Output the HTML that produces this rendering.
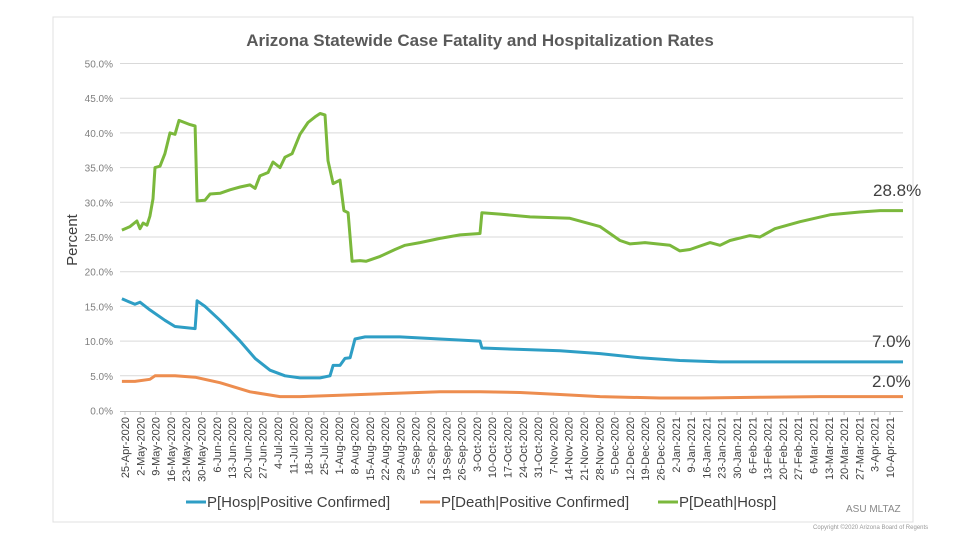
<!DOCTYPE html>
<html><head><meta charset="utf-8"><style>
body{margin:0;background:#fff;}
svg{display:block;font-family:"Liberation Sans",sans-serif;}
</style></head><body>
<svg id="chart" width="960" height="540">
<rect x="53" y="17" width="860" height="505" fill="#fff" stroke="#e0e0e0"/>
<text x="480" y="46" text-anchor="middle" font-size="17" font-weight="bold" fill="#595959">Arizona Statewide Case Fatality and Hospitalization Rates</text>
<text transform="translate(77,240) rotate(-90)" text-anchor="middle" font-size="15" fill="#404040">Percent</text>
<g id="grid"></g><g id="xaxis"></g><g id="series"></g>
<text x="873" y="196" font-size="17" fill="#404040">28.8%</text>
<text x="872" y="347" font-size="17" fill="#404040">7.0%</text>
<text x="872" y="387" font-size="17" fill="#404040">2.0%</text>
<g font-size="15" fill="#404040">
<line x1="186" y1="502" x2="206" y2="502" stroke="#2e9ec5" stroke-width="3"/>
<text x="207" y="507">P[Hosp|Positive Confirmed]</text>
<line x1="420" y1="502" x2="440" y2="502" stroke="#ed8d4f" stroke-width="3"/>
<text x="441" y="507">P[Death|Positive Confirmed]</text>
<line x1="658" y1="502" x2="678" y2="502" stroke="#7bb83c" stroke-width="3"/>
<text x="679" y="507">P[Death|Hosp]</text>
</g>
<text x="846" y="512" font-size="10" fill="#888">ASU MLTAZ</text>
<text x="813" y="529" font-size="6" fill="#999">Copyright ©2020 Arizona Board of Regents</text>
</svg>
<script>
const yTicks=[0,5,10,15,20,25,30,35,40,45,50];
const dateLabels=["25-Apr-2020","2-May-2020","9-May-2020","16-May-2020","23-May-2020","30-May-2020","6-Jun-2020","13-Jun-2020","20-Jun-2020","27-Jun-2020","4-Jul-2020","11-Jul-2020","18-Jul-2020","25-Jul-2020","1-Aug-2020","8-Aug-2020","15-Aug-2020","22-Aug-2020","29-Aug-2020","5-Sep-2020","12-Sep-2020","19-Sep-2020","26-Sep-2020","3-Oct-2020","10-Oct-2020","17-Oct-2020","24-Oct-2020","31-Oct-2020","7-Nov-2020","14-Nov-2020","21-Nov-2020","28-Nov-2020","5-Dec-2020","12-Dec-2020","19-Dec-2020","26-Dec-2020","2-Jan-2021","9-Jan-2021","16-Jan-2021","23-Jan-2021","30-Jan-2021","6-Feb-2021","13-Feb-2021","20-Feb-2021","27-Feb-2021","6-Mar-2021","13-Mar-2021","20-Mar-2021","27-Mar-2021","3-Apr-2021","10-Apr-2021"];
// x in weeks since 25-Apr-2020, values in percent
const greenWeeks=[-0.2,0.33,0.78,0.98,1.18,1.44,1.63,1.83,1.96,2.29,2.61,2.94,3.27,3.53,4.25,4.58,4.71,5.23,5.56,6.21,6.86,7.52,8.17,8.5,8.82,9.35,9.67,10.13,10.46,10.92,11.44,11.96,12.42,12.75,13.07,13.27,13.6,14.05,14.31,14.58,14.84,15.36,15.75,16.67,17.65,18.3,19.28,20.59,21.9,23.2,23.33,24.51,26.47,29.08,31.05,32.35,33.01,33.99,35.62,36.27,36.93,38.24,38.89,39.54,40.85,41.5,42.48,44.12,46.08,48.04,49.35,50.85];
const greenVals=[26,26.5,27.3,26.2,27,26.7,28,30.5,35,35.2,37,40,39.8,41.8,41.2,41,30.2,30.3,31.2,31.3,31.8,32.2,32.5,32,33.8,34.3,35.8,35,36.5,37,39.8,41.5,42.3,42.8,42.6,36,32.7,33.2,28.8,28.5,21.5,21.6,21.5,22.2,23.2,23.8,24.2,24.8,25.3,25.5,28.5,28.3,27.9,27.7,26.5,24.5,24,24.2,23.8,23,23.2,24.2,23.8,24.5,25.2,25,26.2,27.2,28.2,28.6,28.8,28.8];
const blueWeeks=[-0.2,0.65,0.98,1.63,2.61,3.27,4.58,4.71,5.23,6.21,7.52,8.5,9.48,10.46,11.44,12.75,13.4,13.6,14.05,14.38,14.71,15.03,15.69,17.97,20.59,23.2,23.33,25.82,28.43,31.05,33.66,36.27,38.89,44.12,50.85];
const blueVals=[16.1,15.3,15.6,14.5,13,12.1,11.8,15.8,15,13,10,7.5,5.8,5,4.7,4.7,5,6.5,6.5,7.5,7.6,10.3,10.6,10.6,10.3,10,9,8.8,8.6,8.2,7.6,7.2,7.0,7.0,7.0];
const orangeWeeks=[-0.2,0.65,1.63,1.96,3.27,4.58,6.21,8.17,10.13,11.44,14.05,17.97,20.59,23.2,25.82,28.43,31.05,34.97,37.58,41.5,45.42,50.85];
const orangeVals=[4.2,4.2,4.5,5,5,4.8,4,2.7,2.0,2.0,2.2,2.5,2.7,2.7,2.6,2.3,2.0,1.8,1.8,1.9,2.0,2.0];

const NS="http://www.w3.org/2000/svg";
const xS=w=>125+w*15.3;
const yS=v=>410.5-v*6.94;
function mk(tag,attrs,parent){const e=document.createElementNS(NS,tag);for(const k in attrs)e.setAttribute(k,attrs[k]);parent.appendChild(e);return e;}
const grid=document.getElementById('grid');
yTicks.forEach(t=>{
  if(t>0){const l=mk('line',{x1:120,x2:903,y1:yS(t),y2:yS(t),stroke:'#d9d9d9','stroke-width':1},grid);
  
  }
  const tx=mk('text',{x:113,y:yS(t)+4,'text-anchor':'end','font-size':10,fill:'#7f7f7f'},grid);
  tx.textContent=t.toFixed(1)+'%';
  
  
});
const xa=document.getElementById('xaxis');
const ax=mk('line',{x1:120,x2:903,y1:411.5,y2:411.5,stroke:'#bfbfbf'},xa);


dateLabels.forEach((d,i)=>{
  const x=xS(i);
  mk('line',{x1:x,x2:x,y1:411.5,y2:415,stroke:'#bfbfbf'},xa);
  const t=mk('text',{transform:`translate(${x+4},417) rotate(-90)`,'text-anchor':'end','font-size':11,fill:'#404040'},xa);
  t.textContent=d;
  
  
});
const sg=document.getElementById('series');
function line(ws,vs,color,name){
  const d=ws.map((w,i)=>(i?'L':'M')+xS(w).toFixed(1)+','+yS(vs[i]).toFixed(1)).join(' ');
  const p=mk('path',{d:d,fill:'none',stroke:color,'stroke-width':3,'stroke-linejoin':'round'},sg);
  
  
}
line(orangeWeeks,orangeVals,'#ed8d4f','series-death-positive');
line(blueWeeks,blueVals,'#2e9ec5','series-hosp-positive');
line(greenWeeks,greenVals,'#7bb83c','series-death-hosp');
</script>
</body></html>
